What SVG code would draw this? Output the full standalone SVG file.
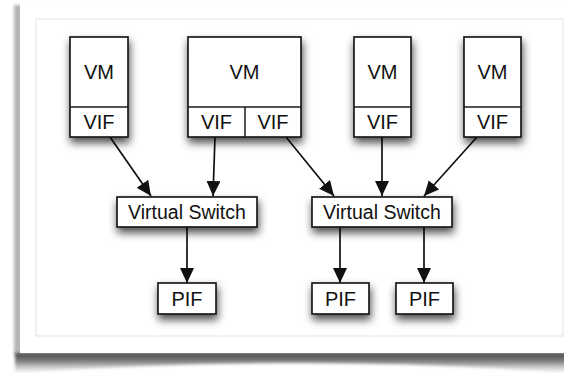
<svg xmlns="http://www.w3.org/2000/svg" width="564" height="373" viewBox="0 0 564 373">
<defs>
<filter id="ds" x="-30%" y="-30%" width="160%" height="180%">
<feDropShadow dx="1" dy="5" stdDeviation="4" flood-color="#000" flood-opacity="0.7"/>
</filter>
<filter id="blur2" x="-10%" y="-50%" width="120%" height="200%"><feGaussianBlur stdDeviation="1.5"/></filter>
<filter id="blur1"><feGaussianBlur stdDeviation="1.5"/></filter>
<linearGradient id="bottomShadow" x1="0" y1="0" x2="0" y2="1">
<stop offset="0" stop-color="#444"/>
<stop offset="0.45" stop-color="#888"/>
<stop offset="1" stop-color="#ddd" stop-opacity="0.3"/>
</linearGradient>
<marker id="arr" markerUnits="userSpaceOnUse" markerWidth="17" markerHeight="15" refX="15" refY="7" orient="auto">
<path d="M0,0 L15,7 L0,14 Z" fill="#111"/>
</marker>
<style>
.box{fill:#fff;stroke:#1a1a1a;stroke-width:1.7}
.div{stroke:#1a1a1a;stroke-width:1.5;fill:none}
.t{font-family:"Liberation Sans",Arial,Helvetica,sans-serif;font-size:20px;fill:#111;text-anchor:middle}
.s{font-size:19.5px}
.c{stroke:#111;stroke-width:1.7;fill:none;marker-end:url(#arr)}
</style>
</defs>
<rect width="564" height="373" fill="#fff"/>
<!-- card shadow -->
<rect x="14" y="5" width="560" height="350" fill="#b5b5b5" filter="url(#blur1)"/>
<path d="M15,353 L570,353 L570,373 Q300,353 15,373 Z" fill="url(#bottomShadow)" filter="url(#blur2)"/>
<rect x="20" y="3" width="560" height="350" fill="#fff"/>
<rect x="36" y="19" width="527" height="317" fill="#fff" stroke="#e3e3e3" stroke-width="1"/>
<g id="connectors">
<line class="c" x1="110" y1="137" x2="151" y2="196"/>
<line class="c" x1="215" y1="137" x2="213" y2="196"/>
<line class="c" x1="286" y1="137" x2="334" y2="196"/>
<line class="c" x1="382" y1="137" x2="382" y2="196"/>
<line class="c" x1="477" y1="137" x2="424" y2="196"/>
<line class="c" x1="187" y1="227" x2="187" y2="283"/>
<line class="c" x1="340" y1="227" x2="340" y2="283"/>
<line class="c" x1="424" y1="227" x2="424" y2="283"/>
</g>
<g id="vm1">
<rect class="box" x="70" y="37" width="58" height="100" filter="url(#ds)"/>
<line class="div" x1="70" y1="107" x2="128" y2="107"/>
<text class="t" x="99" y="79">VM</text>
<text class="t" x="99" y="129">VIF</text>
</g>
<g id="vm2">
<rect class="box" x="188" y="37" width="113" height="100" filter="url(#ds)"/>
<line class="div" x1="188" y1="107" x2="301" y2="107"/>
<line class="div" x1="245" y1="107" x2="245" y2="137"/>
<text class="t" x="244.5" y="79">VM</text>
<text class="t" x="216.5" y="129">VIF</text>
<text class="t" x="273" y="129">VIF</text>
</g>
<g id="vm3">
<rect class="box" x="354" y="37" width="57" height="100" filter="url(#ds)"/>
<line class="div" x1="354" y1="107" x2="411" y2="107"/>
<text class="t" x="382.5" y="79">VM</text>
<text class="t" x="382.5" y="129">VIF</text>
</g>
<g id="vm4">
<rect class="box" x="464" y="37" width="57" height="100" filter="url(#ds)"/>
<line class="div" x1="464" y1="107" x2="521" y2="107"/>
<text class="t" x="492.5" y="79">VM</text>
<text class="t" x="492.5" y="129">VIF</text>
</g>
<g id="vs1">
<rect class="box" x="117" y="197" width="140" height="30" filter="url(#ds)"/>
<text class="t s" x="187" y="219">Virtual Switch</text>
</g>
<g id="vs2">
<rect class="box" x="312" y="197" width="140" height="30" filter="url(#ds)"/>
<text class="t s" x="382" y="219">Virtual Switch</text>
</g>
<g id="pif1">
<rect class="box" x="158" y="283" width="58" height="31" filter="url(#ds)"/>
<text class="t" x="187" y="306">PIF</text>
</g>
<g id="pif2">
<rect class="box" x="312" y="283" width="57" height="31" filter="url(#ds)"/>
<text class="t" x="340.5" y="306">PIF</text>
</g>
<g id="pif3">
<rect class="box" x="396" y="283" width="57" height="31" filter="url(#ds)"/>
<text class="t" x="424.5" y="306">PIF</text>
</g>
</svg>
